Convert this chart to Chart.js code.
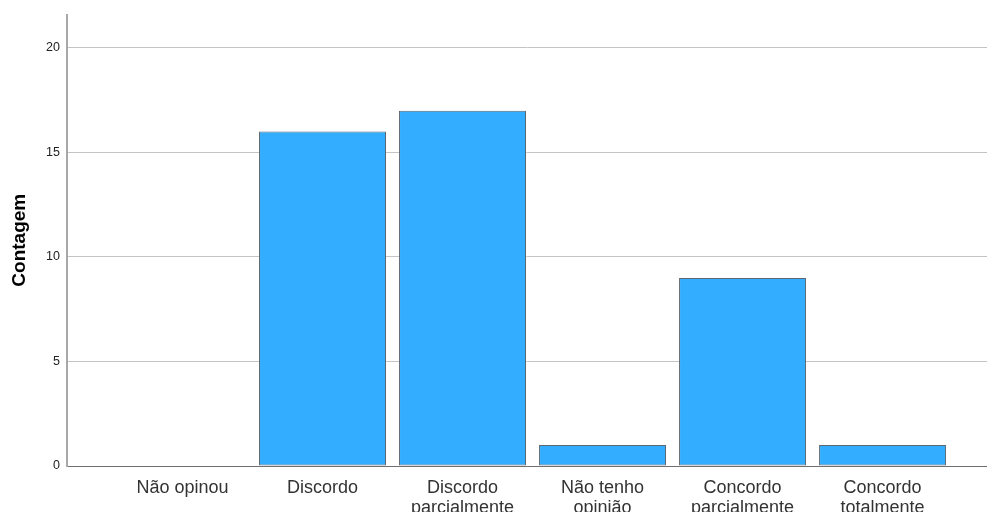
<!DOCTYPE html>
<html><head><meta charset="utf-8">
<script src="https://cdn.jsdelivr.net/npm/chart.js@4.4.0/dist/chart.umd.min.js"></script>
<style>html,body{margin:0;padding:0;background:#fff;}canvas{display:block;}</style>
</head><body>
<canvas id="c" width="987" height="512"></canvas>
<script>
const categories = [["Não opinou"], ["Discordo"], ["Discordo", "parcialmente"], ["Não tenho", "opinião"], ["Concordo", "parcialmente"], ["Concordo", "totalmente"]];
const counts = [0, 16, 17, 1, 9, 1];
const yTicks = [0, 5, 10, 15, 20];

const points = counts.map((v, i) => ({x: i, y: v}));

new Chart(document.getElementById('c'), {
  type: 'bar',
  data: {
    datasets: [{
      data: points,
      backgroundColor: '#33adff',
      borderColor: '#5b6670',
      borderWidth: 1,
      borderSkipped: false,
      barPercentage: 0.907,
      categoryPercentage: 1
    }]
  },
  options: {
    responsive: false,
    animation: false,
    layout: {padding: {top: 12, right: 0, left: 0, bottom: 0}},
    plugins: {legend: {display: false}, tooltip: {enabled: false}},
    scales: {
      x: {
        type: 'linear',
        offset: false,
        min: -0.825,
        max: 5.746,
        afterBuildTicks: s => { s.ticks = categories.map((c, i) => ({value: i})); },
        afterFit: s => { s.height = 46; },
        grid: {display: false, drawTicks: false, offset: false},
        border: {display: true, color: '#6e6e6e', width: 1},
        ticks: {
          padding: 12,
          maxRotation: 0,
          autoSkip: false,
          color: '#333',
          font: {family: 'Liberation Sans, Arial, sans-serif', size: 18, lineHeight: 1.1},
          callback: v => categories[v]
        }
      },
      y: {
        min: 0,
        max: 21.6,
        afterBuildTicks: s => { s.ticks = yTicks.map(v => ({value: v})); },
        afterFit: s => { s.width = 67; },
        grid: {color: '#c4c4c4', lineWidth: 1, drawTicks: false},
        border: {display: true, color: '#a8a8a8', width: 2},
        ticks: {
          padding: 7,
          color: '#222',
          font: {family: 'Liberation Sans, Arial, sans-serif', size: 12.5}
        },
        title: {
          display: true,
          text: 'Contagem',
          color: '#000',
          padding: {top: 8, bottom: 0},
          font: {family: 'Liberation Sans, Arial, sans-serif', size: 19, weight: 'bold'}
        }
      }
    }
  }
});
</script>
</body></html>
